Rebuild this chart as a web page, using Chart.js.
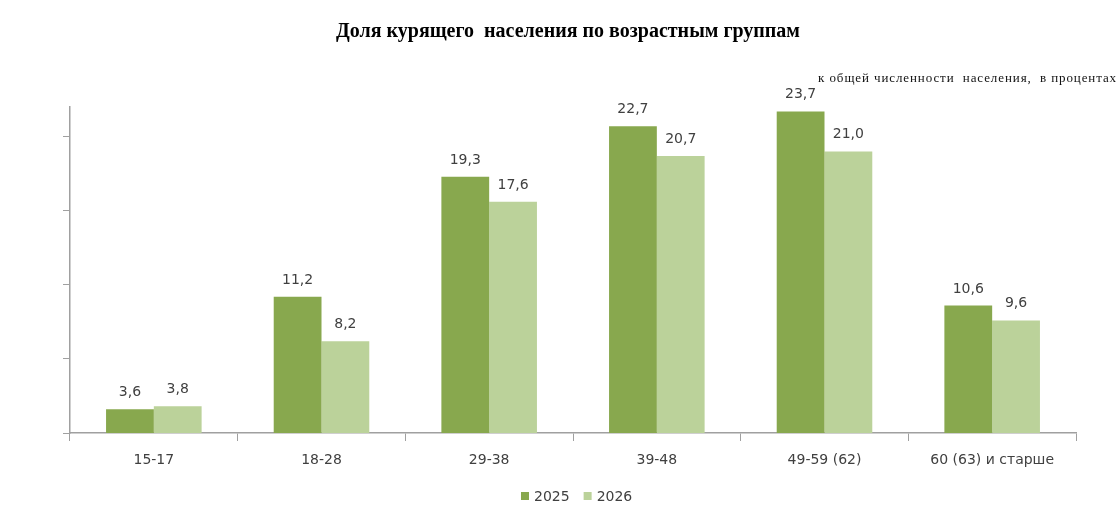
<!DOCTYPE html>
<html>
<head>
<meta charset="utf-8">
<script src="https://cdn.jsdelivr.net/npm/chart.js@4"></script>
<style>
  body { margin: 0; background: #fff; }
  #wrap { width: 1120px; height: 522px; }
</style>
</head>
<body>
<div id="wrap"><canvas id="smokeChart" width="1120" height="522"></canvas></div>
<script>
// data
const categories = ['15-17', '18-28', '29-38', '39-48', '49-59 (62)', '60 (63) и старше'];
const seriesLabels = ['2025', '2026'];
const values2025 = [3.6, 11.2, 19.3, 22.7, 23.7, 10.6];
const values2026 = [3.8, 8.2, 17.6, 20.7, 21.0, 9.6];
const yTicks = [2, 7, 12, 17, 22];

const titleText = 'Доля курящего  населения по возрастным группам';
const subtitleText = 'к общей численности  населения,  в процентах';

const colors = ['#88a84e', '#bbd29a'];
const textColor = '#404040';
const axisColor = '#a0a0a0';

// values above bars, title, subtitle and legend
const decorPlugin = {
  id: 'decor',
  afterDatasetsDraw(chart) {
    const ctx = chart.ctx;
    ctx.save();
    ctx.fillStyle = textColor;
    ctx.font = '14px "DejaVu Sans"';
    ctx.textAlign = 'center';
    ctx.textBaseline = 'alphabetic';
    chart.data.datasets.forEach((ds, i) => {
      chart.getDatasetMeta(i).data.forEach((bar, j) => {
        const txt = ds.data[j].toFixed(1).replace('.', ',');
        ctx.fillText(txt, bar.x, bar.y - 13);
      });
    });

    // title
    ctx.fillStyle = '#000';
    ctx.font = 'bold 20px "Liberation Serif"';
    ctx.fillText(titleText, 568, 37);

    // subtitle, spaced out a bit like the original
    ctx.fillStyle = '#111';
    ctx.font = '13px "Liberation Serif"';
    ctx.textAlign = 'right';
    ctx.letterSpacing = '0.9px';
    ctx.fillText(subtitleText, 1117, 82);
    ctx.letterSpacing = '0px';

    // legend
    ctx.font = '14px "DejaVu Sans"';
    ctx.textAlign = 'left';
    ctx.textBaseline = 'middle';
    let x = 521;
    chart.data.datasets.forEach((ds, i) => {
      ctx.fillStyle = ds.backgroundColor;
      ctx.fillRect(x, 492, 8, 8);
      ctx.fillStyle = textColor;
      ctx.fillText(ds.label, x + 13, 497);
      x += 13 + ctx.measureText(ds.label).width + 14;
    });
    ctx.restore();
  }
};

const ctx = document.getElementById('smokeChart').getContext('2d');

new Chart(ctx, {
  type: 'bar',
  data: {
    labels: categories,
    datasets: [
      { label: seriesLabels[0], data: values2025, backgroundColor: colors[0] },
      { label: seriesLabels[1], data: values2026, backgroundColor: colors[1] }
    ]
  },
  options: {
    responsive: false,
    animation: false,
    layout: { padding: { top: 107, right: 44, bottom: 0, left: 0 } },
    datasets: {
      bar: { categoryPercentage: 0.57, barPercentage: 1.0 }
    },
    plugins: {
      legend: { display: false },
      title: { display: false },
      tooltip: { enabled: false }
    },
    scales: {
      x: {
        grid: {
          offset: true,
          drawOnChartArea: false,
          drawTicks: true,
          tickLength: 8,
          color: axisColor
        },
        border: { color: axisColor, width: 1.5 },
        ticks: {
          color: textColor,
          font: { family: 'DejaVu Sans', size: 14 },
          padding: 11,
          maxRotation: 0,
          autoSkip: false
        },
        afterFit(scale) { scale.height = 89; }
      },
      y: {
        min: 2,
        max: 24,
        grid: {
          drawOnChartArea: false,
          drawTicks: true,
          tickLength: 7,
          color: axisColor
        },
        border: { color: axisColor, width: 1.5 },
        ticks: { display: false },
        afterBuildTicks(scale) {
          scale.ticks = yTicks.map(v => ({ value: v }));
        },
        afterFit(scale) { scale.width = 70; }
      }
    }
  },
  plugins: [decorPlugin]
});
</script>
</body>
</html>
